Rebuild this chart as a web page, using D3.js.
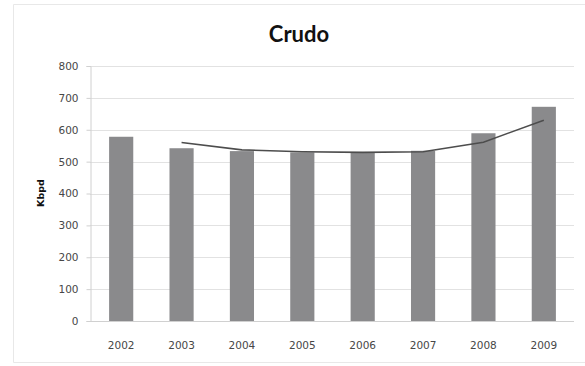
<!DOCTYPE html>
<html>
<head>
<meta charset="utf-8">
<script src="https://cdn.jsdelivr.net/npm/d3@7/dist/d3.min.js"></script>
<style>
  html, body { margin: 0; padding: 0; background: #fff; }
  svg { display: block; }
</style>
</head>
<body>
<svg id="chart" width="585" height="366"></svg>
<script>
// Crude oil production, thousand barrels per day
const years = ["2002", "2003", "2004", "2005", "2006", "2007", "2008", "2009"];
const production = [578, 542, 533, 529, 529, 534, 589, 672];
// Two-period moving-average trend line (starts at 2003)
const trendYears = ["2003", "2004", "2005", "2006", "2007", "2008", "2009"];
const trendValues = [560, 537, 531, 529, 531, 561, 630];
const yTicks = [0, 100, 200, 300, 400, 500, 600, 700, 800];

const svg = d3.select("#chart");
const W = 585, H = 366;

// Chart frame
svg.append("path")
  .attr("d", `M${W},4.5 H13.5 V362.5 H${W}`)
  .attr("fill", "none")
  .attr("stroke", "#e8e8e8")
  .attr("stroke-width", 1);

const plot = { left: 90, right: 574, top: 66, bottom: 321 };

const x = d3.scaleBand()
  .domain(years)
  .range([plot.left + 1, plot.right])
  .paddingInner(0.6)
  .paddingOuter(0.3);

const y = d3.scaleLinear()
  .domain([0, 800])
  .range([plot.bottom, plot.top]);

// Horizontal gridlines
svg.append("g")
  .selectAll("line")
  .data(yTicks.filter(d => d > 0))
  .join("line")
  .attr("x1", plot.left)
  .attr("x2", plot.right)
  .attr("y1", d => Math.round(y(d)) + 0.5)
  .attr("y2", d => Math.round(y(d)) + 0.5)
  .attr("stroke", "#e2e2e2")
  .attr("stroke-width", 1.2);

// Y axis
const yAxis = svg.append("g")
  .attr("transform", `translate(${plot.left + 0.5},0)`)
  .call(d3.axisLeft(y).tickValues(yTicks).tickSize(4).tickPadding(8));
yAxis.select(".domain").attr("stroke", "#d0d0d0");
yAxis.selectAll(".tick line").attr("stroke", "#d0d0d0");
yAxis.selectAll("text")
  .attr("fill", "#474747")
  .style("font-family", "'DejaVu Sans', sans-serif")
  .style("font-size", "10.5px");

// Bars
svg.append("g")
  .selectAll("rect")
  .data(years.map((yr, i) => ({ yr, v: production[i] })))
  .join("rect")
  .attr("x", d => x(d.yr))
  .attr("width", x.bandwidth())
  .attr("y", d => y(d.v))
  .attr("height", d => y(0) - y(d.v))
  .attr("fill", "#8a8a8c");

// X axis baseline and labels
const xAxis = svg.append("g")
  .attr("transform", `translate(0,${Math.round(y(0)) + 0.5})`)
  .call(d3.axisBottom(x).tickSize(0).tickPadding(20));
xAxis.select(".domain")
  .attr("d", `M${plot.left},0H${plot.right}`)
  .attr("stroke", "#d0d0d0");
xAxis.selectAll("text")
  .attr("fill", "#474747")
  .style("font-family", "'DejaVu Sans', sans-serif")
  .style("font-size", "10.5px");

// Trend line
const line = d3.line()
  .x(d => x(d.yr) + x.bandwidth() / 2)
  .y(d => y(d.v));
svg.append("path")
  .datum(trendYears.map((yr, i) => ({ yr, v: trendValues[i] })))
  .attr("d", line)
  .attr("fill", "none")
  .attr("stroke", "#4d4d4d")
  .attr("stroke-width", 1.6);

// Title
svg.append("text")
  .attr("x", 299)
  .attr("y", 42)
  .attr("text-anchor", "middle")
  .attr("fill", "#111")
  .style("font-family", "Lato, sans-serif")
  .style("font-weight", "bold")
  .style("font-size", "22px")
  .text("Crudo");

// Y axis title
svg.append("text")
  .attr("transform", "translate(44,193) rotate(-90)")
  .attr("text-anchor", "middle")
  .attr("fill", "#111")
  .style("font-family", "'DejaVu Sans', sans-serif")
  .style("font-weight", "bold")
  .style("font-size", "9.5px")
  .text("Kbpd");
</script>
</body>
</html>
